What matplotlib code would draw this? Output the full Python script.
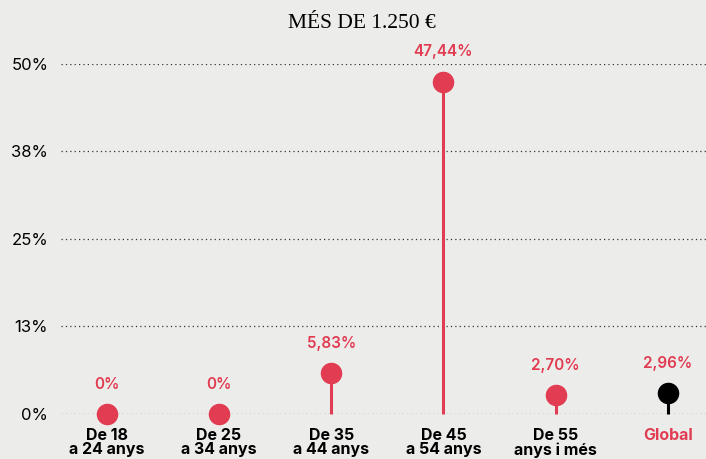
import matplotlib.pyplot as plt
import numpy as np

# dades
categories = ["De 18\na 24 anys", "De 25\na 34 anys", "De 35\na 44 anys",
              "De 45\na 54 anys", "De 55\nanys i més", "Global"]
valors = [0.0, 0.0, 5.83, 47.44, 2.70, 2.96]
etiquetes = ["0%", "0%", "5,83%", "47,44%", "2,70%", "2,96%"]
yticks = [0, 12.5, 25, 37.5, 50]
ytick_labels = ["0%", "13%", "25%", "38%", "50%"]

fons = "#ecedea"
vermell = "#e13c52"
colors = [vermell] * 5 + ["black"]

fig = plt.figure(figsize=(7.06, 4.59), dpi=100, facecolor=fons)
ax = fig.add_axes([0.086, 0.098, 0.914, 0.763], facecolor=fons)

x = np.arange(len(categories))
for xi, v, c, lab in zip(x, valors, colors, etiquetes):
    ax.plot([xi, xi], [0, v], color=c, lw=2.2, solid_capstyle="butt", zorder=3, clip_on=False)
    ax.plot(xi, v, "o", ms=14.5, color=c, zorder=4, clip_on=False)
    ax.annotate(lab, (xi, v), xytext=(0, 30), textcoords="offset pixels",
                ha="center", va="center", color=vermell, fontsize=11,
                family="Inter", fontweight="semibold")

ax.set_xlim(-0.41, 5.34)
ax.set_ylim(0, 50)
ax.set_yticks(yticks)
ax.set_yticklabels(ytick_labels, fontsize=12, family="Inter")
ax.set_xticks(x)
ax.set_xticklabels(categories, fontsize=11.5, family="Inter", fontweight="bold", linespacing=0.95)
ax.get_xticklabels()[-1].set_color(vermell)
ax.tick_params(axis="y", length=0, pad=9)
ax.tick_params(axis="x", length=0, pad=10)
ax.grid(axis="y", linestyle=(0, (1, 2.5)), color="#333333", lw=0.9)
ax.set_axisbelow(True)
for s in ax.spines.values():
    s.set_visible(False)

fig.text(0.513, 0.948, "MÉS DE 1.250 €", ha="center", va="center",
         fontsize=15.5, family="Liberation Serif")

plt.savefig("out.png", dpi=100, facecolor=fons)
